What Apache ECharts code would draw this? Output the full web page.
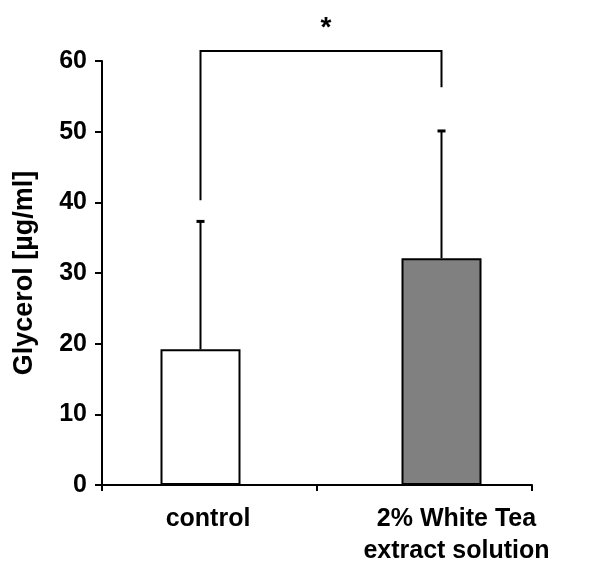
<!DOCTYPE html>
<html>
<head>
<meta charset="utf-8">
<script src="https://cdn.jsdelivr.net/npm/echarts@6/dist/echarts.min.js"></script>
<style>html,body{margin:0;padding:0;background:#fff}#c{width:600px;height:576px}</style>
</head>
<body>
<div id="c"></div>
<script>
const categories = ['control', '2% White Tea\nextract solution'];
const meanValues = [19.2, 32.1];
const errorUpper = [37.3, 50.1];
const yTicks = [0, 10, 20, 30, 40, 50, 60];
// significance bracket: [left leg bottom, top, right leg bottom]
const bracketLevels = [40.3, 61.4, 56.3];
const starLevel = 65.2;
const starText = '*';

const FONT = '"Liberation Sans", Arial, sans-serif';
// horizontal shift of each bar from its category centre (matches bar layout below)
const OFFSET = [-9, 17];

const chart = echarts.init(document.getElementById('c'), null, {renderer: 'canvas'});
chart.setOption({
  animation: false,
  backgroundColor: '#fff',
  grid: {left: 102, right: 68, top: 61, bottom: 91},
  xAxis: {
    type: 'category',
    data: categories,
    boundaryGap: true,
    axisLine: {lineStyle: {color: '#000', width: 2}},
    axisTick: {show: true, length: 6, lineStyle: {color: '#000', width: 2}},
    axisLabel: {
      color: '#000', fontFamily: FONT, fontWeight: 'bold', fontSize: 25,
      lineHeight: 32, margin: 18, interval: 0,
      formatter: function (v, i) { return i === 1 ? '{b|' + v.replace('\n', '}\n{b|') + '}' : '{a|' + v + '}'; },
      rich: {
        a: {fontFamily: FONT, fontWeight: 'bold', fontSize: 25, lineHeight: 32, color: '#000', padding: [0, 3, 0, 0]},
        b: {fontFamily: FONT, fontWeight: 'bold', fontSize: 25, lineHeight: 32, color: '#000', padding: [0, 0, 0, 64]}
      }
    }
  },
  yAxis: {
    type: 'value', min: yTicks[0], max: yTicks[yTicks.length - 1], interval: 10,
    name: 'Glycerol [µg/ml]', nameLocation: 'middle', nameGap: 64, nameRotate: 90,
    nameTextStyle: {color: '#000', fontFamily: FONT, fontWeight: 'bold', fontSize: 27},
    axisLine: {show: true, lineStyle: {color: '#000', width: 2}},
    axisTick: {show: true, length: 7, lineStyle: {color: '#000', width: 2}},
    splitLine: {show: false},
    axisLabel: {color: '#000', fontFamily: FONT, fontWeight: 'bold', fontSize: 25, margin: 15}
  },
  series: [
    {
      type: 'bar', name: 'control', data: [meanValues[0], '-'],
      barWidth: 80, barGap: '-67.5%',
      itemStyle: {color: '#ffffff', borderColor: '#000', borderWidth: 2}, z: 3
    },
    {
      type: 'bar', name: 'tea', data: ['-', meanValues[1]],
      barWidth: 80, barGap: '-67.5%',
      itemStyle: {color: '#808080', borderColor: '#000', borderWidth: 2}, z: 3
    },
    {
      // empty layout spacer so that the two bars sit where they are in the original figure
      type: 'bar', name: 'spacer', data: ['-', '-'],
      barWidth: 46, barGap: '-67.5%', silent: true
    },
    {
      type: 'custom', name: 'error', z: 2,
      data: meanValues.map((m, i) => [i, m, errorUpper[i]]),
      renderItem: function (params, api) {
        const i = api.value(0);
        const p0 = api.coord([i, api.value(1)]);
        const p1 = api.coord([i, api.value(2)]);
        const x = p0[0] + OFFSET[i];
        return {
          type: 'group', children: [
            {type: 'line', shape: {x1: x, y1: p0[1], x2: x, y2: p1[1]}, style: {stroke: '#000', lineWidth: 2}},
            {type: 'line', shape: {x1: x - 4, y1: p1[1], x2: x + 4, y2: p1[1]}, style: {stroke: '#000', lineWidth: 3}}
          ]
        };
      }
    },
    {
      type: 'custom', name: 'bracket', z: 4, clip: false,
      data: [[0, 1]],
      renderItem: function (params, api) {
        const a = api.coord([0, bracketLevels[0]]);
        const t = api.coord([0, bracketLevels[1]]);
        const b = api.coord([1, bracketLevels[2]]);
        const xa = a[0] + OFFSET[0], xb = b[0] + OFFSET[1];
        const s = api.coord([0, starLevel]);
        return {
          type: 'group', children: [
            {type: 'polyline', shape: {points: [[xa, a[1]], [xa, t[1]], [xb, t[1]], [xb, b[1]]]},
              style: {stroke: '#000', lineWidth: 2, fill: null}},
            {type: 'text', x: (xa + xb) / 2 + 5, y: s[1] + 4,
              style: {text: starText, fill: '#000', font: 'bold 28px ' + FONT, textAlign: 'center', textVerticalAlign: 'middle'}}
          ]
        };
      }
    }
  ]
});
</script>
</body>
</html>
